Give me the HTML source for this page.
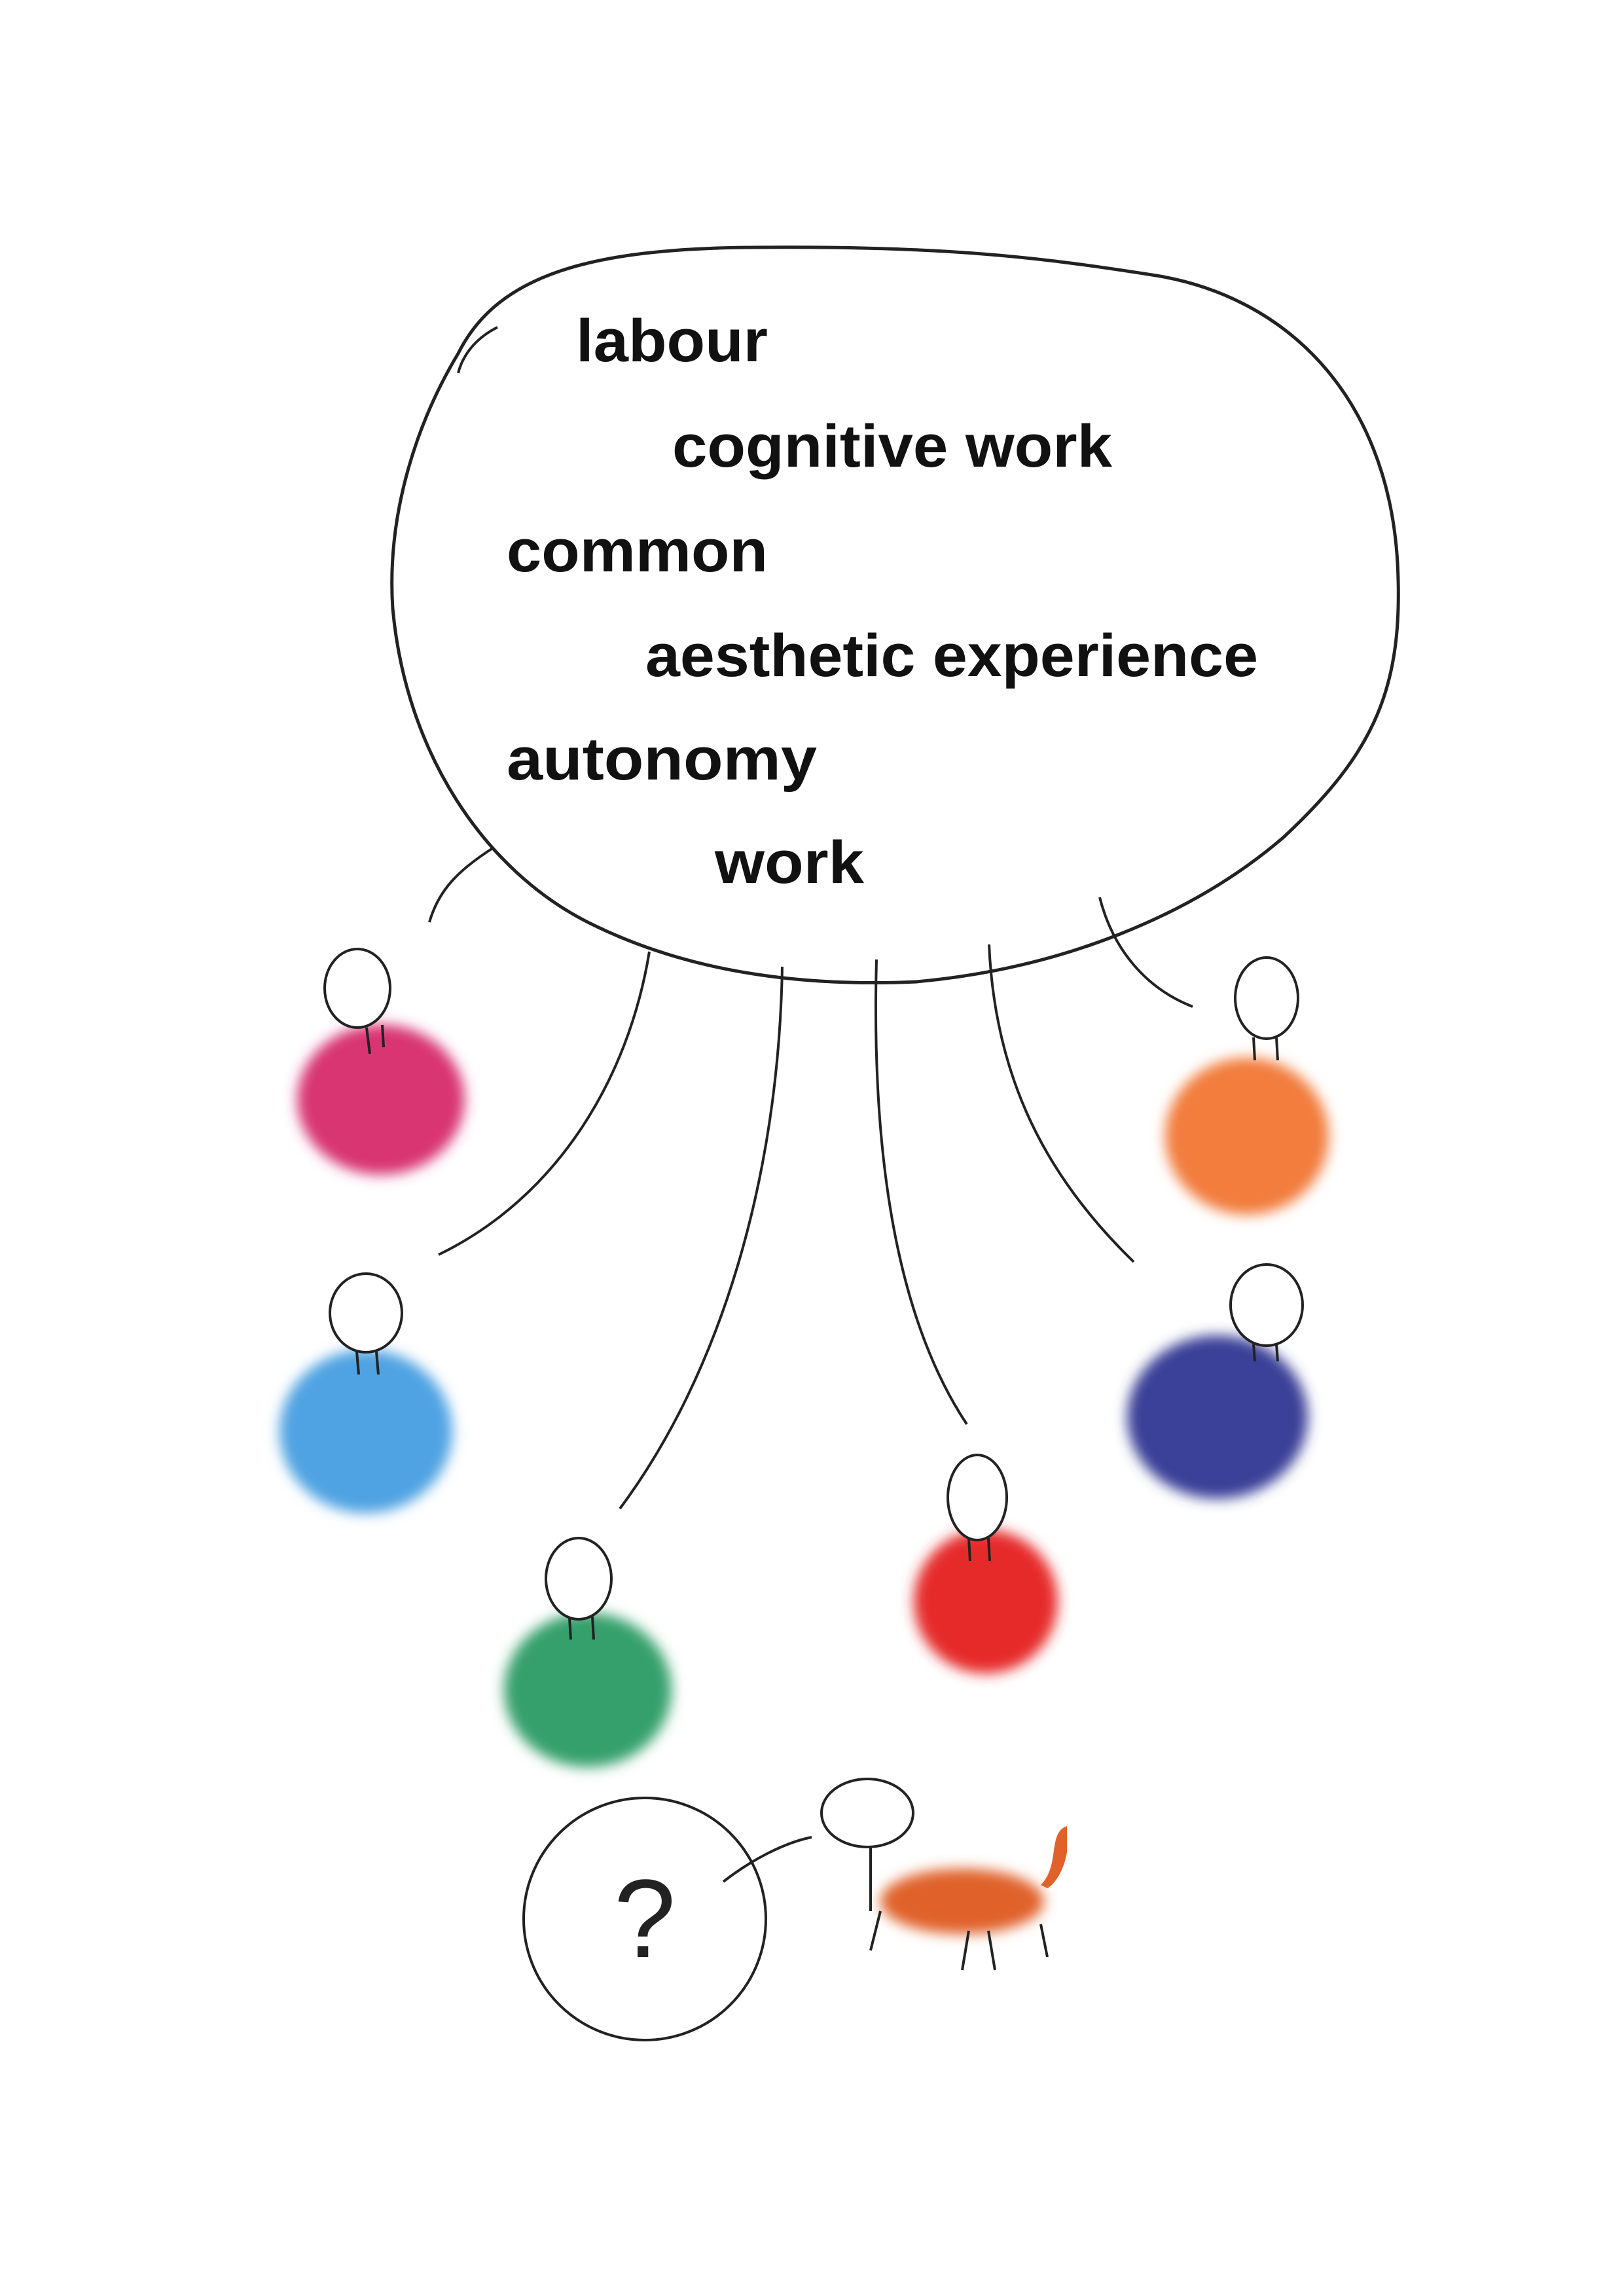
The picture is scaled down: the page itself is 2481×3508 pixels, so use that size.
<!DOCTYPE html>
<html><head><meta charset="utf-8"><style>
html,body{margin:0;padding:0;background:#fff;}
svg{display:block;}
</style></head><body>
<svg width="2481" height="3508" viewBox="0 0 2481 3508" xmlns="http://www.w3.org/2000/svg">
<defs>
<filter id="b" x="-50%" y="-50%" width="200%" height="200%"><feGaussianBlur stdDeviation="10"/></filter>
</defs>
<rect width="2481" height="3508" fill="#fff"/>
<path d="M700,540 C760,420 900,380 1150,378 C1450,375 1600,395 1760,420 C1960,450 2120,600 2135,860 C2145,1050 2100,1150 1960,1280 C1820,1400 1620,1480 1400,1500 C1180,1510 1020,1470 900,1410 C740,1330 620,1150 600,930 C590,780 640,640 700,540 Z" fill="none" stroke="#222" stroke-width="5"/>
<path d="M760,500 C720,520 705,550 700,570" fill="none" stroke="#222" stroke-width="4"/>
<g font-family="Liberation Sans, sans-serif" font-weight="bold" font-size="92" fill="#111">
<text x="880" y="552" textLength="293" lengthAdjust="spacingAndGlyphs">labour</text>
<text x="1027" y="713" textLength="672" lengthAdjust="spacingAndGlyphs">cognitive work</text>
<text x="774" y="873" textLength="399" lengthAdjust="spacingAndGlyphs">common</text>
<text x="986" y="1033" textLength="936" lengthAdjust="spacingAndGlyphs">aesthetic experience</text>
<text x="774" y="1191" textLength="474" lengthAdjust="spacingAndGlyphs">autonomy</text>
<text x="1092" y="1349" textLength="228" lengthAdjust="spacingAndGlyphs">work</text>
</g>
<g fill="none" stroke="#222" stroke-width="4">
<path d="M751,1297 C700,1330 670,1360 656,1409"/>
<path d="M992,1454 C960,1650 850,1830 670,1917"/>
<path d="M1195,1477 C1190,1800 1100,2100 947,2305"/>
<path d="M1339,1466 C1330,1800 1380,2030 1477,2176"/>
<path d="M1511,1443 C1520,1650 1600,1800 1732,1928"/>
<path d="M1680,1371 C1700,1450 1750,1510 1822,1538"/>
</g>
<g filter="url(#b)">
<ellipse cx="582" cy="1680" rx="128" ry="115" fill="#d83472"/>
<ellipse cx="559" cy="2187" rx="132" ry="125" fill="#4fa3e2"/>
<ellipse cx="898" cy="2582" rx="128" ry="118" fill="#34a06c"/>
<ellipse cx="1506" cy="2447" rx="110" ry="110" fill="#e62a2c"/>
<ellipse cx="1905" cy="1736" rx="125" ry="120" fill="#f27d3c"/>
<ellipse cx="1860" cy="2165" rx="138" ry="125" fill="#3b3f98"/>
<ellipse cx="1470" cy="2905" rx="125" ry="50" fill="#e0622a"/>
</g>
<g fill="#fff" stroke="#222" stroke-width="4">
<ellipse cx="546" cy="1510" rx="50" ry="60"/>
<ellipse cx="559" cy="2006" rx="55" ry="60"/>
<ellipse cx="884" cy="2412" rx="50" ry="62"/>
<ellipse cx="1493" cy="2288" rx="45" ry="65"/>
<ellipse cx="1935" cy="1525" rx="48" ry="62"/>
<ellipse cx="1935" cy="1994" rx="55" ry="62"/>
</g>
<g stroke="#222" stroke-width="4">
<line x1="560" y1="1570" x2="565" y2="1610"/><line x1="584" y1="1566" x2="586" y2="1600"/>
<line x1="545" y1="2065" x2="548" y2="2100"/><line x1="575" y1="2065" x2="578" y2="2100"/>
<line x1="870" y1="2472" x2="872" y2="2505"/><line x1="905" y1="2470" x2="907" y2="2505"/>
<line x1="1480" y1="2350" x2="1482" y2="2385"/><line x1="1510" y1="2350" x2="1512" y2="2385"/>
<line x1="1915" y1="1585" x2="1917" y2="1620"/><line x1="1950" y1="1585" x2="1952" y2="1620"/>
<line x1="1915" y1="2054" x2="1917" y2="2080"/><line x1="1950" y1="2054" x2="1952" y2="2080"/>
</g>
<g fill="none" stroke="#222" stroke-width="4">
<ellipse cx="1325" cy="2770" rx="70" ry="52" fill="#fff"/>
<path d="M1330,2822 L1330,2920 M1345,2920 L1330,2980 M1480,2950 L1470,3010 M1510,2950 L1520,3010 M1590,2940 L1600,2990"/>
</g>
<path d="M1590,2880 C1620,2850 1600,2800 1630,2790 L1630,2830 C1625,2860 1610,2880 1600,2885Z" fill="#e0622a"/>
<circle cx="985" cy="2932" r="185" fill="none" stroke="#222" stroke-width="4"/>
<path d="M1105,2875 C1150,2840 1200,2815 1240,2807" fill="none" stroke="#222" stroke-width="4"/>
<text x="985" y="2990" text-anchor="middle" font-family="Liberation Sans, sans-serif" font-size="170" fill="#222">?</text>
</svg>
</body></html>
